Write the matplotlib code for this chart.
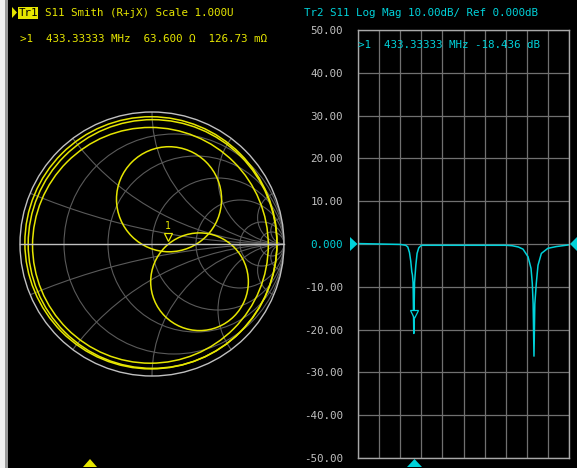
import numpy as np
import matplotlib.pyplot as plt
from matplotlib.patches import Circle, Rectangle, Polygon

# ---- data ----
# Smith chart grid values (normalised R and X)
smith_r = [0.2, 0.5, 1.0, 2.0, 5.0, 10.0]
smith_x = [0.2, 0.5, 1.0, 2.0, 5.0, 10.0]

# S11 trace on the Smith chart, as loops (centre x, centre y, radius) in gamma units
loop_cx = [-0.008, 0.004, -0.012, 0.129, 0.360]
loop_cy = [0.009, 0.000, -0.010, 0.339, -0.286]
loop_r = [0.955, 0.942, 0.893, 0.398, 0.370]

marker_gamma = (0.12, 0.0)   # 63.600 ohm + j126.73 mohm

# Log mag trace: x in grid divisions (0..10), value in dB
mag_div = [0.0, 1.0, 2.0, 2.26, 2.36, 2.44, 2.50, 2.55, 2.58, 2.61, 2.63, 2.645,
           2.66, 2.68, 2.71, 2.74, 2.80, 2.88, 3.0, 4.0, 5.0, 6.0, 7.0, 7.31,
           7.6, 7.82, 8.06, 8.2, 8.26, 8.30, 8.34, 8.38, 8.45, 8.53, 8.69, 9.0,
           9.4, 10.0]
mag_db = [0.1, 0.0, -0.1, -0.3, -0.7, -2.0, -4.0, -6.5, -7.2, -9.0, -16.0, -20.9,
          -15.0, -9.0, -7.0, -5.0, -2.2, -0.9, -0.3, -0.3, -0.3, -0.3, -0.3, -0.4,
          -0.7, -1.2, -3.0, -5.7, -9.2, -14.0, -26.2, -14.0, -9.2, -5.0, -2.2, -1.0,
          -0.6, -0.2]
marker_div = 2.64
marker_db = -18.436

ytick_vals = [50, 40, 30, 20, 10, 0, -10, -20, -30, -40, -50]
ytick_text = ['50.00', '40.00', '30.00', '20.00', '10.00', '0.000',
              '-10.00', '-20.00', '-30.00', '-40.00', '-50.00']

W, H = 577, 468
YEL = '#e6e600'
CYA = '#00d2da'
GRID = '#5a5a5a'
LIGHT = '#c0c0c0'
FONT = 'DejaVu Sans Mono'
FS = 7.8

fig = plt.figure(figsize=(W / 100, H / 100), dpi=100, facecolor='black')


def px_axes(left, top, w, h, **kw):
    return fig.add_axes([left / W, 1 - (top + h) / H, w / W, h / H], **kw)


# ---- Smith chart ----
cx, cy, R = 152, 244, 132
pad = 8
ax_s = px_axes(cx - R - pad, cy - R - pad, 2 * (R + pad), 2 * (R + pad))
ax_s.set_facecolor('black')
lim = (R + pad) / R
ax_s.set_xlim(-lim, lim)
ax_s.set_ylim(-lim, lim)
ax_s.axis('off')

clip = Circle((0, 0), 1.0, transform=ax_s.transData, fill=False, lw=0)
ax_s.add_patch(clip)
clip.set_visible(False)

for r in smith_r:
    c = Circle((r / (1 + r), 0), 1 / (1 + r), fill=False, ec=GRID, lw=0.8)
    ax_s.add_patch(c)
    c.set_clip_path(clip)
for xv in smith_x:
    for sgn in (1, -1):
        c = Circle((1, sgn / xv), 1 / xv, fill=False, ec=GRID, lw=0.8)
        ax_s.add_patch(c)
        c.set_clip_path(clip)

ax_s.add_patch(Circle((0, 0), 1.0, fill=False, ec=LIGHT, lw=1.0))
ax_s.plot([-1, 1], [0, 0], color=LIGHT, lw=1.0)

for x0, y0, rr in zip(loop_cx, loop_cy, loop_r):
    ax_s.add_patch(Circle((x0, y0), rr, fill=False, ec=YEL, lw=1.1))

ax_s.plot(marker_gamma[0], marker_gamma[1] + 0.05, marker='v', ms=6,
          mfc='black', mec=YEL, mew=0.9)
ax_s.text(marker_gamma[0], marker_gamma[1] + 0.1, '1', color=YEL,
          fontsize=7, family=FONT, ha='center', va='bottom')

# ---- Log mag plot ----
ax_l = px_axes(358, 30, 211, 428)
ax_l.set_facecolor('black')
ax_l.set_xlim(0, 10)
ax_l.set_ylim(-50, 50)
ax_l.set_xticks(range(11))
ax_l.set_xticklabels([])
ax_l.set_yticks(ytick_vals)
ax_l.set_yticklabels(ytick_text, family=FONT, fontsize=FS, color=LIGHT)
ax_l.get_yticklabels()[5].set_color(CYA)
ax_l.tick_params(length=0, pad=11)
ax_l.grid(True, color='#707070', lw=0.9)
for sp in ax_l.spines.values():
    sp.set_color('#a8a8a8')
    sp.set_linewidth(1.0)

ax_l.plot(mag_div, mag_db, color=CYA, lw=1.1)
ax_l.plot(marker_div, marker_db + 2.0, marker='v', ms=6, mfc='black',
          mec=CYA, mew=0.9)

ax_l.text(0.0, 46.5, '>1  433.33333 MHz -18.436 dB', color=CYA, family=FONT,
          fontsize=FS, ha='left', va='center')

# ---- overlay: headers, borders, arrows ----
ov = fig.add_axes([0, 0, 1, 1], zorder=10)
ov.set_xlim(0, W)
ov.set_ylim(H, 0)
ov.axis('off')
ov.patch.set_alpha(0)

ov.add_patch(Rectangle((0, 0), 5, H, color='#f0f0f0', lw=0))
ov.add_patch(Rectangle((5, 0), 3, H, color='#9a9a9a', lw=0))

ov.add_patch(Polygon([[12, 7], [12, 18], [17, 12.5]], color=YEL, lw=0))
ov.add_patch(Rectangle((18, 6.5), 20, 12, color=YEL, lw=0))
ov.text(28, 13, 'Tr1', color='black', family=FONT, fontsize=FS,
        ha='center', va='center')
ov.text(45, 13, 'S11 Smith (R+jX) Scale 1.000U', color=YEL, family=FONT,
        fontsize=FS, ha='left', va='center')
ov.text(20, 39, '>1  433.33333 MHz  63.600 \u03a9  126.73 m\u03a9', color=YEL,
        family=FONT, fontsize=FS, ha='left', va='center')
ov.text(304, 13, 'Tr2 S11 Log Mag 10.00dB/ Ref 0.000dB', color=CYA,
        family=FONT, fontsize=FS, ha='left', va='center')

ov.add_patch(Polygon([[350, 237], [350, 251], [357.5, 244]], color=CYA, lw=0))
ov.add_patch(Polygon([[577, 237], [577, 251], [570, 244]], color=CYA, lw=0))
ov.add_patch(Polygon([[83, 467], [97, 467], [90, 459]], color=YEL, lw=0))
ov.add_patch(Polygon([[407, 467], [422, 467], [414.5, 459]], color=CYA, lw=0))

fig.savefig('out.png', dpi=100, facecolor='black')
